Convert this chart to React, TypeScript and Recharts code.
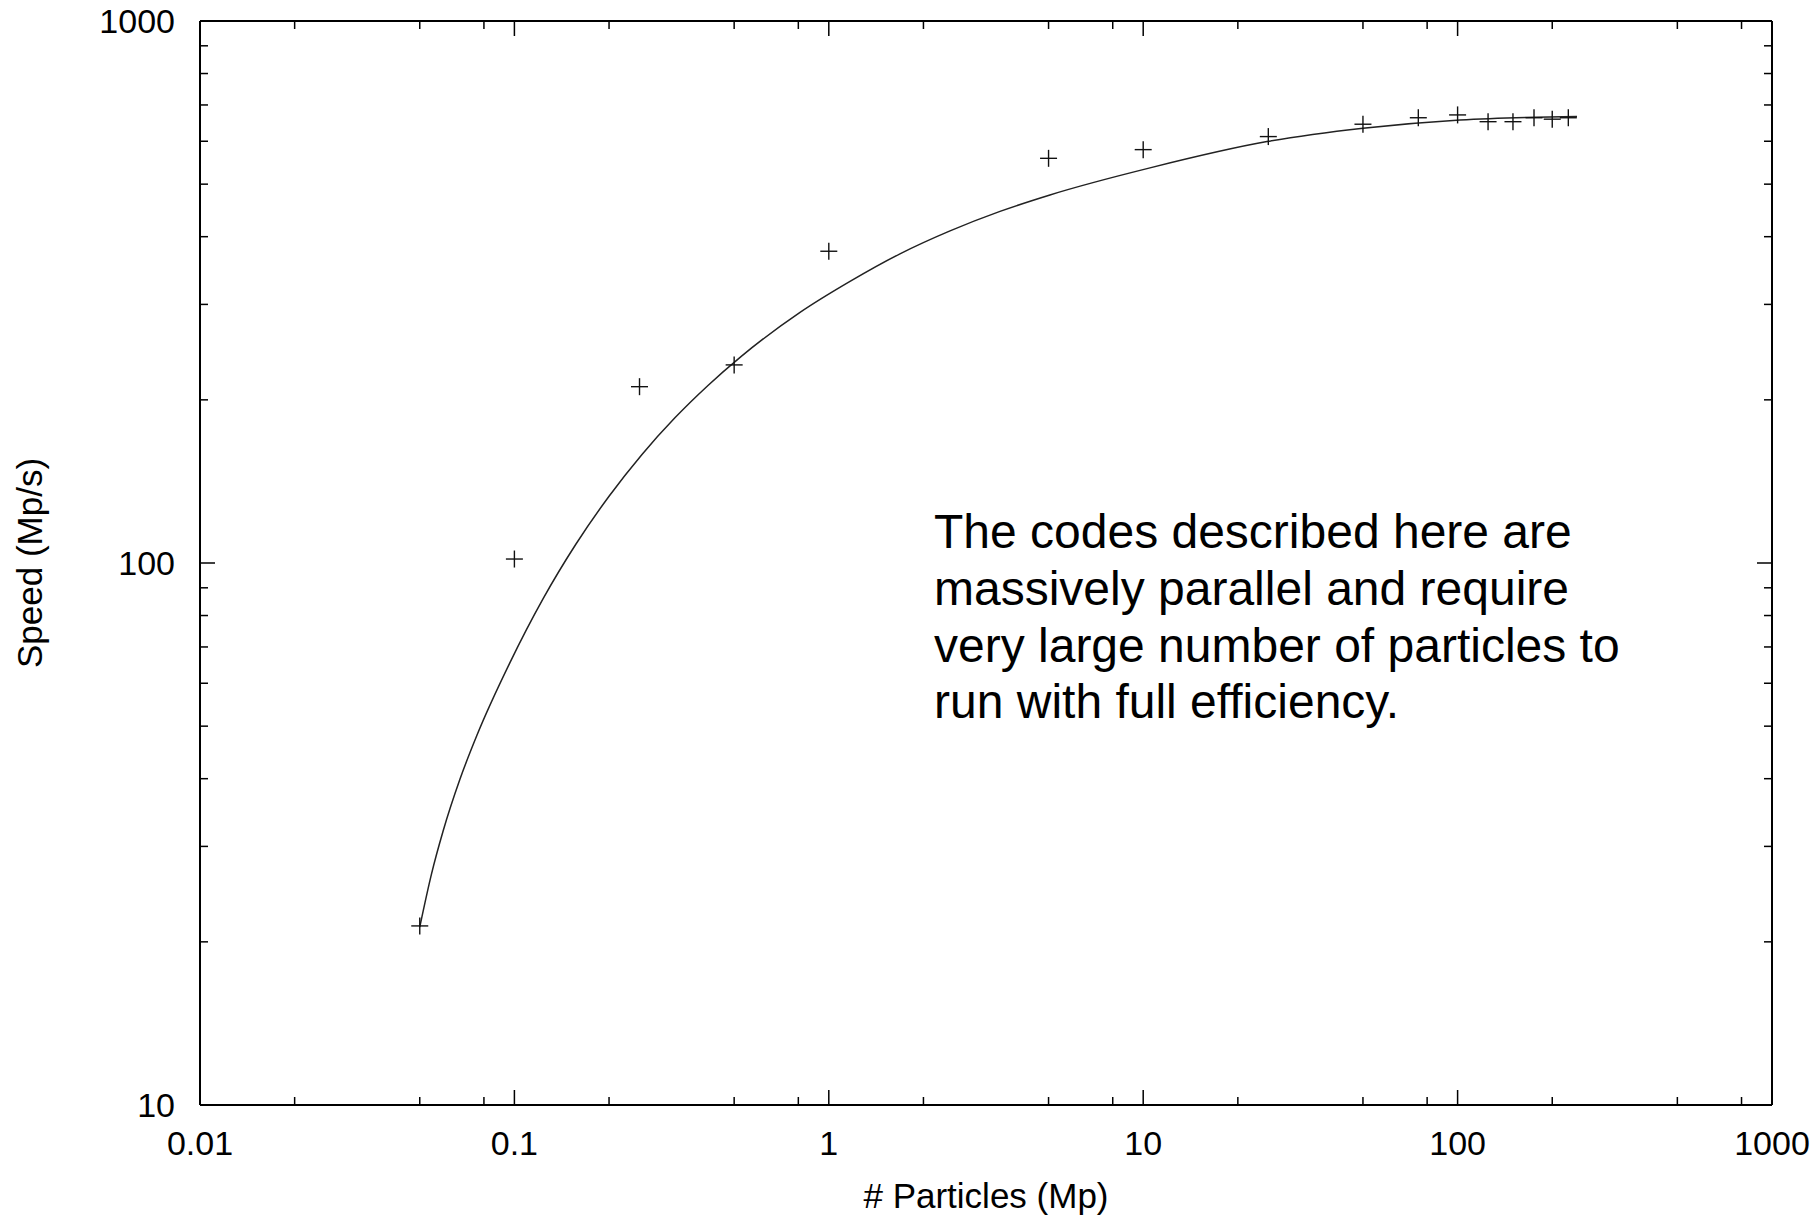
import React from "react";
import { ComposedChart, Line, Scatter, XAxis, YAxis, Label } from "recharts";

// measured speed vs particle count (Mp, Mp/s)
const particles = [0.05, 0.1, 0.25, 0.5, 1, 5, 10, 25, 50, 75, 100, 125, 150, 175, 200, 225];
const speeds = [21.4, 101.7, 211.5, 232, 376, 558, 579, 612, 645, 663, 671, 652, 652, 663, 659, 663];

// fitted curve
const fitParticles = [
  0.05, 0.0545, 0.0593, 0.0671, 0.076, 0.0968, 0.1233, 0.157, 0.2, 0.2546, 0.324, 0.4128, 0.5256,
  0.81, 1.168, 1.684, 2.43, 3.504, 5.052, 10.51, 24.76, 50.03, 101.8, 239.8,
];
const fitSpeeds = [
  21.3, 26.7, 32.0, 39.9, 48.1, 65.5, 85.86, 108.4, 132.8, 158.6, 185.3, 212.6, 240.3,
  290, 330.8, 371.9, 410, 445.4, 477.6, 535.8, 599.1, 634.2, 657, 666.8,
];

const xMajorTicks = [0.01, 0.1, 1, 10, 100, 1000];
const xMinorTicks = [0.02, 0.05, 0.08, 0.2, 0.5, 0.8, 2, 5, 8, 20, 50, 80, 200, 500, 800];
const yMajorTicks = [10, 100, 1000];
const yMinorTicks = [20, 30, 40, 50, 60, 70, 80, 90, 200, 300, 400, 500, 600, 700, 800, 900];

const note = [
  "The codes described here are",
  "massively parallel and require",
  "very large number of particles to",
  "run with full efficiency.",
];

const measured = particles.map((x, i) => ({ x, y: speeds[i] }));
const fit = fitParticles.map((x, i) => ({ x, y: fitSpeeds[i] }));
const xTicks = [...xMajorTicks, ...xMinorTicks].sort((a, b) => a - b);
const yTicks = [...yMajorTicks, ...yMinorTicks].sort((a, b) => a - b);

const FONT = '"Liberation Sans", Arial, Helvetica, sans-serif';
const MAJOR = 15;
const MINOR = 8;
const INK = "#000";

const len = (v: number, majors: number[]) => (majors.includes(v) ? MAJOR : MINOR);

function BottomTick({ x, y, payload }: any) {
  const major = xMajorTicks.includes(payload.value);
  return (
    <g>
      <line x1={x} x2={x} y1={y} y2={y - len(payload.value, xMajorTicks)} stroke={INK} strokeWidth={1.5} />
      {major && (
        <text x={x} y={y + 38} textAnchor="middle" dominantBaseline="central" fontSize={34} fill={INK} fontFamily={FONT}>
          {String(payload.value)}
        </text>
      )}
    </g>
  );
}

function TopTick({ x, y, payload }: any) {
  return <line x1={x} x2={x} y1={y} y2={y + len(payload.value, xMajorTicks)} stroke={INK} strokeWidth={1.5} />;
}

function LeftTick({ x, y, payload }: any) {
  const major = yMajorTicks.includes(payload.value);
  return (
    <g>
      <line x1={x} x2={x + len(payload.value, yMajorTicks)} y1={y} y2={y} stroke={INK} strokeWidth={1.5} />
      {major && (
        <text x={x - 25} y={y} textAnchor="end" dominantBaseline="central" fontSize={34} fill={INK} fontFamily={FONT}>
          {String(payload.value)}
        </text>
      )}
    </g>
  );
}

function RightTick({ x, y, payload }: any) {
  return <line x1={x} x2={x - len(payload.value, yMajorTicks)} y1={y} y2={y} stroke={INK} strokeWidth={1.5} />;
}

function Cross({ cx, cy }: any) {
  return (
    <g stroke="#111" strokeWidth={1.4}>
      <line x1={cx - 8.5} x2={cx + 8.5} y1={cy} y2={cy} />
      <line x1={cx} x2={cx} y1={cy - 8.5} y2={cy + 8.5} />
    </g>
  );
}

export default function App() {
  const axisLine = { stroke: INK, strokeWidth: 2 };
  return (
    <div style={{ position: "absolute", left: 0, top: 0, width: 1820, height: 1218, background: "#fff" }}>
      <ComposedChart width={1820} height={1218} margin={{ top: 20, right: 47, bottom: 0, left: 0 }}>
        <XAxis
          dataKey="x"
          type="number"
          scale="log"
          domain={[0.01, 1000]}
          allowDataOverflow
          ticks={xTicks}
          interval={0}
          tickSize={0}
          tickMargin={0}
          tickLine={false}
          tick={<BottomTick />}
          axisLine={axisLine}
          height={113}
        >
          <Label
            content={({ viewBox }: any) => (
              <text
                x={viewBox.x + viewBox.width / 2}
                y={viewBox.y + 90}
                textAnchor="middle"
                dominantBaseline="central"
                fontSize={35}
                fill={INK}
                fontFamily={FONT}
              >
                # Particles (Mp)
              </text>
            )}
          />
        </XAxis>
        <XAxis
          xAxisId="top"
          orientation="top"
          dataKey="x"
          type="number"
          scale="log"
          domain={[0.01, 1000]}
          allowDataOverflow
          ticks={xTicks}
          interval={0}
          tickSize={0}
          tickMargin={0}
          tickLine={false}
          tick={<TopTick />}
          axisLine={axisLine}
          height={1}
        />
        <YAxis
          type="number"
          scale="log"
          domain={[10, 1000]}
          allowDataOverflow
          ticks={yTicks}
          interval={0}
          tickSize={0}
          tickMargin={0}
          tickLine={false}
          tick={<LeftTick />}
          axisLine={axisLine}
          width={200}
        >
          <Label
            content={({ viewBox }: any) => {
              const cx = viewBox.x + 29;
              const cy = viewBox.y + viewBox.height / 2;
              return (
                <text
                  x={cx}
                  y={cy}
                  transform={`rotate(-90, ${cx}, ${cy})`}
                  textAnchor="middle"
                  dominantBaseline="central"
                  fontSize={35}
                  fill={INK}
                  fontFamily={FONT}
                >
                  Speed (Mp/s)
                </text>
              );
            }}
          />
        </YAxis>
        <YAxis
          yAxisId="right"
          orientation="right"
          type="number"
          scale="log"
          domain={[10, 1000]}
          allowDataOverflow
          ticks={yTicks}
          interval={0}
          tickSize={0}
          tickMargin={0}
          tickLine={false}
          tick={<RightTick />}
          axisLine={axisLine}
          width={1}
        />
        <Line
          data={fit}
          dataKey="y"
          type="monotone"
          stroke="#222"
          strokeWidth={1.5}
          dot={false}
          activeDot={false}
          isAnimationActive={false}
        />
        <Scatter data={measured} dataKey="y" shape={<Cross />} isAnimationActive={false} />
        {/* binds the mirrored frame axes so they get drawn */}
        <Scatter
          data={measured}
          dataKey="y"
          xAxisId="top"
          yAxisId="right"
          shape={() => <g />}
          legendType="none"
          isAnimationActive={false}
        />
      </ComposedChart>
      <div
        style={{
          position: "absolute",
          left: 934,
          top: 504,
          fontFamily: FONT,
          fontSize: 48,
          lineHeight: "56.8px",
          color: INK,
          whiteSpace: "nowrap",
        }}
      >
        {note.map((t) => (
          <div key={t}>{t}</div>
        ))}
      </div>
    </div>
  );
}
